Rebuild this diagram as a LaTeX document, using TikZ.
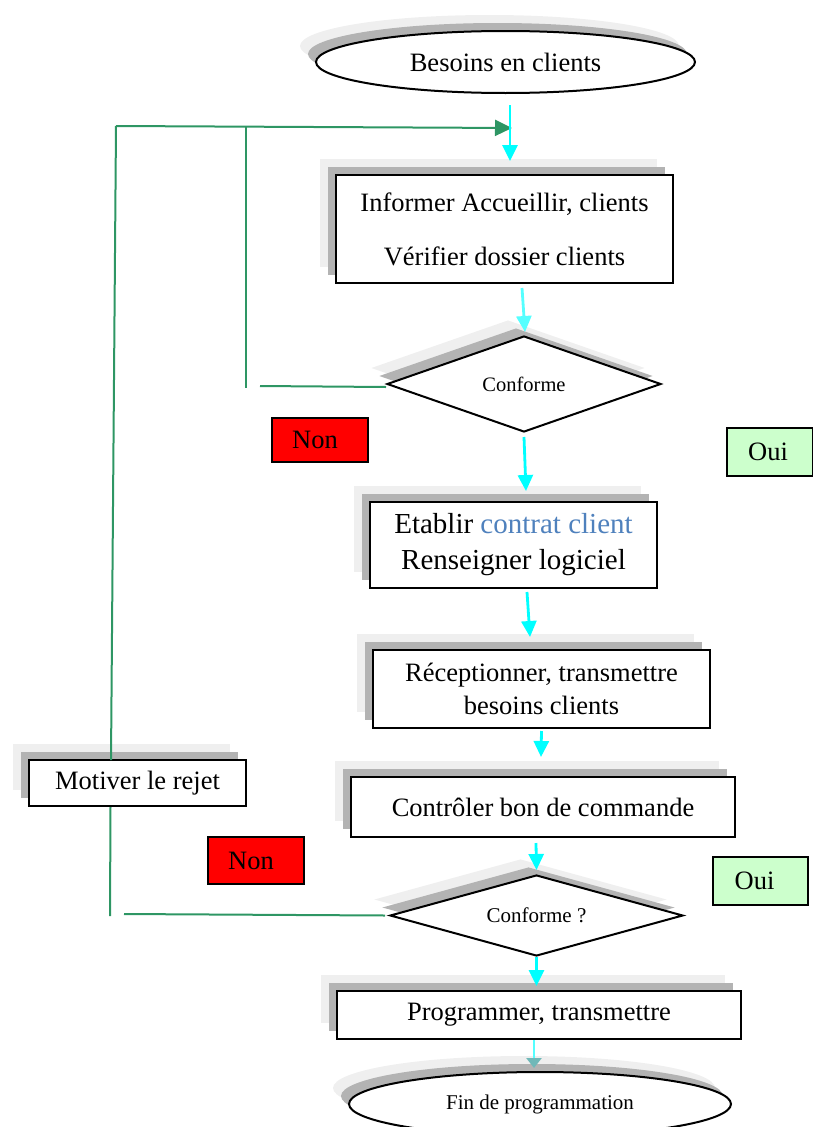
\documentclass[tikz,border=0pt]{standalone}
\usepackage{fontspec}
\setmainfont{Liberation Serif}
\usetikzlibrary{shapes.geometric,shadows,arrows.meta}
\definecolor{shLight}{HTML}{EFEFEF}
\definecolor{shDark}{HTML}{B3B3B3}
\definecolor{flowCyan}{HTML}{00FFFF}
\definecolor{paleCyan}{HTML}{55FFFF}
\definecolor{fadeCyan}{HTML}{70B8B8}
\definecolor{loopGreen}{RGB}{46,150,100}
\definecolor{nonRed}{HTML}{FF0000}
\definecolor{ouiGreen}{HTML}{CCFFCC}
\definecolor{linkBlue}{HTML}{4F81BD}
\tikzset{
  shadowed/.style={
    copy shadow={shadow xshift=-16pt, shadow yshift=16pt, fill=shLight, draw=none},
    copy shadow={shadow xshift=-8pt, shadow yshift=8pt, fill=shDark, draw=none}},
  stepbox/.style={shadowed, draw=black, line width=2pt, fill=white, rectangle,
    inner sep=0pt, align=center, font=\fontsize{26.5}{32}\selectfont},
  termbox/.style={shadowed, draw=black, line width=2pt, fill=white, ellipse,
    inner sep=0pt},
  testbox/.style={shadowed, draw=black, line width=2pt, fill=white, diamond,
    aspect=3, inner sep=0pt},
  tagbox/.style={draw=black, line width=1.6pt, rectangle, inner sep=0pt,
    font=\fontsize{26.5}{32}\selectfont},
  flow/.style={draw=flowCyan, line width=2.8pt, -{Triangle[width=15pt,length=16pt]}},
  loop/.style={draw=loopGreen, line width=2pt},
}
\begin{document}
\begin{tikzpicture}[x=1pt,y=-1pt]
\useasboundingbox (0,0) rectangle (813,1127);
\clip (0,0) rectangle (813,1127);
% nodes
\node[termbox, minimum width=379pt, minimum height=62pt, font=\fontsize{26.5}{32}\selectfont] (e1) at (505.5,62) {Besoins en clients};
\node[stepbox, minimum width=337pt, minimum height=108pt, font=\fontsize{26.5}{54}\selectfont] (box1) at (504.5,229) {Informer Accueillir, clients\\Vérifier dossier clients};
\node[testbox, minimum width=274pt, minimum height=96pt, font=\fontsize{20.5}{24}\selectfont] (d1) at (524,384) {Conforme};
\node[tagbox, fill=nonRed, minimum width=96pt, minimum height=44pt] (non1) at (320,440) {Non\hspace*{10pt}};
\node[tagbox, fill=ouiGreen, minimum width=86pt, minimum height=48pt] (oui1) at (770,452) {Oui\hspace*{4pt}};
\node[stepbox, minimum width=287pt, minimum height=86pt, font=\fontsize{29}{36}\selectfont] (box2) at (513.5,545) {Etablir \textcolor{linkBlue}{contrat client}\\Renseigner logiciel};
\node[stepbox, minimum width=337pt, minimum height=78pt, font=\fontsize{26.5}{33}\selectfont] (box3) at (541.5,689) {Réceptionner, transmettre\\besoins clients};
\node[stepbox, minimum width=217pt, minimum height=46pt] (motiv) at (137.5,783) {Motiver le rejet};
\node[stepbox, minimum width=384pt, minimum height=60pt] (box4) at (543,807) {Contrôler bon de commande};
\node[tagbox, fill=nonRed, minimum width=96pt, minimum height=47pt] (non2) at (256,860.5) {Non\hspace*{10pt}};
\node[tagbox, fill=ouiGreen, minimum width=95pt, minimum height=48pt] (oui2) at (760.5,881) {Oui\hspace*{12pt}};
\node[testbox, minimum width=293pt, minimum height=81pt, font=\fontsize{21}{24}\selectfont] (d2) at (536.5,915.5) {Conforme ?};
\node[stepbox, minimum width=404pt, minimum height=48pt] (box5) at (539,1015) {Programmer, transmettre};
\node[termbox, minimum width=382pt, minimum height=64pt, font=\fontsize{21}{24}\selectfont] (e2) at (540,1104) {Fin de programmation};
% loop coordinates
\coordinate (gTopL) at (116,126);
\coordinate (gTopR) at (512,128);
\coordinate (gMidTop) at (246,126);
\coordinate (gMidBot) at (246,388);
\coordinate (gMidEnd) at (260,386);
\coordinate (gLeftBot) at (111,760);
\coordinate (gLowBot) at (110,916);
\coordinate (gLowEnd) at (124,914);
% green loops
\draw[loop, -{Triangle[width=16pt,length=17pt]}] (gTopL) -- (gTopR);
\draw[loop] (gMidTop) -- (gMidBot);
\draw[loop] ([shift={(0,3)}]d1.west) -- (gMidEnd);
\draw[loop] (gTopL) -- (gLeftBot);
\draw[loop] ([shift={(-27,0)}]motiv.south) -- (gLowBot);
\draw[loop] ([shift={(-4,0)}]d2.west) -- (gLowEnd);
% cyan flow
\draw[flow] ([shift={(4.5,11)}]e1.south) -- ([shift={(5.5,-13)}]box1.north);
\draw[flow, draw=paleCyan] ([shift={(17.5,4)}]box1.south) -- ([shift={(1,-3)}]d1.north);
\draw[flow] ([shift={(0,4)}]d1.south) -- ([shift={(12.5,-10)}]box2.north);
\draw[flow] ([shift={(13.5,3)}]box2.south) -- ([shift={(-11.5,-12)}]box3.north);
\draw[flow] ([shift={(0,2)}]box3.south) -- ([shift={(-2,-19)}]box4.north);
\draw[flow] ([shift={(-7,5)}]box4.south) -- ([shift={(0,-4)}]d2.north);
\draw[flow] (d2.south) -- ([shift={(-2.5,-4)}]box5.north);
\draw[flow, draw=paleCyan, -{Triangle[width=15pt,length=10pt,color=fadeCyan,fill=fadeCyan]}] ([shift={(-5,0)}]box5.south) -- ([shift={(-6,-3)}]e2.north);
\end{tikzpicture}
\end{document}
